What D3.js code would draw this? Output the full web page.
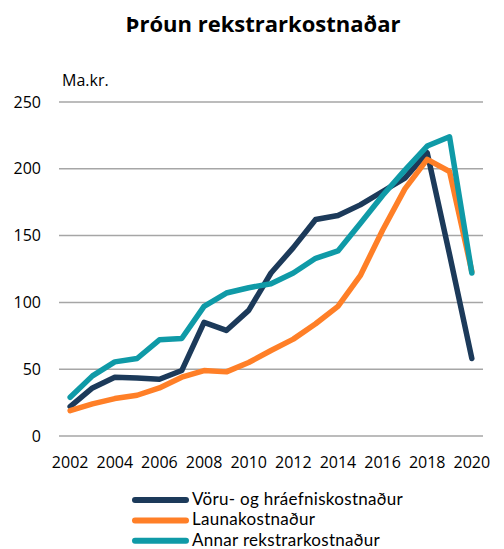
<!DOCTYPE html>
<html>
<head>
<meta charset="utf-8">
<script src="https://cdn.jsdelivr.net/npm/d3@7"></script>
<style>
  body { margin: 0; background: #fff; }
  text { font-family: "Open Sans", sans-serif; fill: #000; }
  .legend text { font-family: Lato, "Open Sans", sans-serif; letter-spacing: 0.3px; }
</style>
</head>
<body>
<div id="chart"></div>
<script>
"use strict";

// chart data
var years = d3.range(2002, 2021);
var tickYears = [2002, 2004, 2006, 2008, 2010, 2012, 2014, 2016, 2018, 2020];
var yTicks = [0, 50, 100, 150, 200, 250];
var seriesNames = ["Vöru- og hráefniskostnaður", "Launakostnaður", "Annar rekstrarkostnaður"];
var voru = [22, 36, 44, 43.5, 42.5, 49, 85, 79, 94, 122, 141, 162, 165, 173, 183, 193, 212, 136, 58];
var launa = [19, 24, 28, 30.5, 36, 44, 49, 48, 55, 64, 72.5, 84, 97, 120, 154, 185, 207, 198, 123];
var annar = [29, 45, 55.5, 58, 72, 73, 97, 107, 111, 114, 122, 133, 138.5, 159, 180, 199, 217, 224, 122];
var colors = ["#1c3a5a", "#ff7f27", "#0f9aa7"];

var width = 504, height = 549;
var svg = d3.select("#chart").append("svg").attr("width", width).attr("height", height);

// scales
var x = d3.scalePoint().domain(years).range([59, 483]).padding(0.5);
var y = d3.scaleLinear().domain([0, 250]).range([436, 102]);

// title
svg.append("text").attr("x", 263).attr("y", 32).attr("text-anchor", "middle")
  .style("font-size", "22px").style("font-weight", "bold").text("Þróun rekstrarkostnaðar");

// unit label
svg.append("text").attr("x", 62).attr("y", 86).style("font-size", "16px").text("Ma.kr.");

// gridlines
svg.append("g").selectAll("line").data(yTicks).enter().append("line")
  .attr("x1", 59).attr("x2", 483)
  .attr("y1", function (d) { return y(d); }).attr("y2", function (d) { return y(d); })
  .style("stroke", "#a6a6a6").style("stroke-width", 1.5);

// y axis labels
svg.append("g").selectAll("text").data(yTicks).enter().append("text")
  .attr("x", 41).attr("y", function (d) { return y(d) + 5.5; })
  .attr("text-anchor", "end").style("font-size", "16px")
  .text(function (d) { return d; });

// x axis labels
svg.append("g").selectAll("text").data(tickYears).enter().append("text")
  .attr("x", function (d) { return x(d); }).attr("y", 467.5)
  .attr("text-anchor", "middle").style("font-size", "16px")
  .text(function (d) { return d; });

// lines
var line = d3.line().x(function (d, i) { return x(years[i]); }).y(function (d) { return y(d); });
[voru, launa, annar].forEach(function (s, i) {
  svg.append("path").datum(s).attr("d", line)
    .style("fill", "none").style("stroke", colors[i]).style("stroke-width", 5.5)
    .style("stroke-linejoin", "round").style("stroke-linecap", "round");
});

// legend
var legend = svg.append("g").attr("class", "legend").selectAll("g").data(seriesNames).enter().append("g")
  .attr("transform", function (d, i) { return "translate(0," + (500 + i * 20.4) + ")"; });
legend.append("line").attr("x1", 135).attr("x2", 186).attr("y1", 0).attr("y2", 0)
  .style("stroke", function (d, i) { return colors[i]; })
  .style("stroke-width", 6).style("stroke-linecap", "round");
legend.append("text").attr("x", 192).attr("y", 5).style("font-size", "17px")
  .text(function (d) { return d; });
</script>
</body>
</html>
